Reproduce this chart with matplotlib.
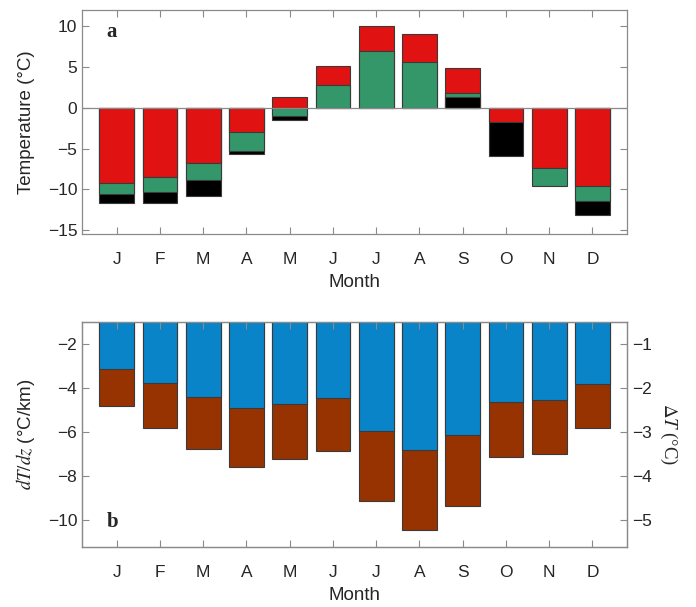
import matplotlib
matplotlib.use("Agg")
import matplotlib.pyplot as plt
import numpy as np

plt.rcParams['font.family'] = ['Liberation Sans', 'DejaVu Sans']
plt.rcParams['mathtext.fontset'] = 'stix'

months = ["J", "F", "M", "A", "M", "J", "J", "A", "S", "O", "N", "D"]

# panel a: temperature (°C), three overlapping series (nan = not visible)
temp_red = [-9.2, -8.5, -6.7, -2.9, 1.3, 5.1, 10.0, 9.05, 4.9, -1.75, -7.35, -9.6]
temp_green = [-10.6, -10.35, -8.8, -5.25, -1.0, 2.85, 6.95, 5.6, 1.8, np.nan, -9.6, -11.45]
temp_black = [-11.7, -11.7, -10.8, -5.65, -1.5, np.nan, np.nan, np.nan, 1.35, -5.85, np.nan, -13.1]

# panel b: lapse rate (°C/km) and temperature difference (°C)
dtdz = [-3.1, -3.75, -4.4, -4.9, -4.7, -4.45, -5.95, -6.8, -6.1, -4.6, -4.55, -3.8]
delta_t = [-2.4, -2.9, -3.37, -3.78, -3.6, -3.42, -4.56, -5.22, -4.68, -3.55, -3.49, -2.91]

c_red = '#e01212'
c_green = '#33976a'
c_black = '#000000'
c_blue = '#0a84c8'
c_brown = '#973300'
frame = '#8a8a8a'
txt = '#262626'

x = np.arange(1, 13)
fig = plt.figure(figsize=(6.96, 6.07), dpi=100)
ax1 = fig.add_axes([0.118, 0.614, 0.783, 0.3695])
ax2 = fig.add_axes([0.118, 0.099, 0.783, 0.370])


def style(ax, right=True):
    for s in ax.spines.values():
        s.set_color(frame)
        s.set_linewidth(0.9)
    ax.tick_params(direction='in', length=5, width=0.8, color=frame,
                   labelcolor=txt, labelsize=12.5, top=True, right=right)
    ax.tick_params(axis='x', pad=13)


# panel a: in each month draw the largest magnitude first
for i in range(12):
    entries = [(temp_red[i], c_red), (temp_green[i], c_green), (temp_black[i], c_black)]
    entries = [e for e in entries if not np.isnan(e[0])]
    entries.sort(key=lambda e: -abs(e[0]))
    for v, c in entries:
        ax1.bar(x[i], v, width=0.8, color=c, edgecolor='#3a3a3a', linewidth=0.8)
ax1.axhline(0, color=frame, lw=0.9)
ax1.set_xlim(0.2, 12.8)
ax1.set_ylim(-15.5, 12)
ax1.set_yticks([-15, -10, -5, 0, 5, 10])
ax1.set_xticks(x)
ax1.set_xticklabels(months)
ax1.set_xlabel("Month", fontsize=13.5, color=txt, labelpad=5)
ax1.set_ylabel("Temperature (°C)", fontsize=13.5, color=txt, labelpad=9)
style(ax1)
ax1.text(0.045, 0.9, "a", transform=ax1.transAxes, fontsize=15, fontweight='bold',
         family='Liberation Serif', color=txt, va='center')

# panel b
ax2r = ax2.twinx()
ax2r.bar(x, delta_t, width=0.8, color=c_brown, edgecolor='#3a3a3a', linewidth=0.8)
ax2r.set_ylim(-5.6, -0.5)
ax2r.set_yticks([-5, -4, -3, -2, -1])
ax2.set_zorder(ax2r.get_zorder() + 1)
ax2.patch.set_visible(False)
ax2.bar(x, dtdz, width=0.8, color=c_blue, edgecolor='#3a3a3a', linewidth=0.8)
ax2.set_xlim(0.2, 12.8)
ax2.set_ylim(-11.2, -1)
ax2.set_yticks([-10, -8, -6, -4, -2])
ax2.set_xticks(x)
ax2.set_xticklabels(months)
ax2.set_xlabel("Month", fontsize=13.5, color=txt, labelpad=5)
ax2.set_ylabel("$dT/dz$ (°C/km)", fontsize=13.5, color=txt, labelpad=8)
style(ax2, right=False)
ax2.tick_params(axis='y', right=False)
for s in ax2r.spines.values():
    s.set_color(frame)
    s.set_linewidth(0.9)
ax2r.tick_params(direction='in', length=5, width=0.8, color=frame,
                 labelcolor=txt, labelsize=12.5)
ax2r.set_ylabel(r"$\Delta T$ (°C)", fontsize=13.5, color=txt, rotation=270,
                labelpad=20, family='Liberation Serif')
ax2.text(0.045, 0.11, "b", transform=ax2.transAxes, fontsize=15, fontweight='bold',
         family='Liberation Serif', color=txt, va='center')

fig.savefig("out.png", dpi=100)
